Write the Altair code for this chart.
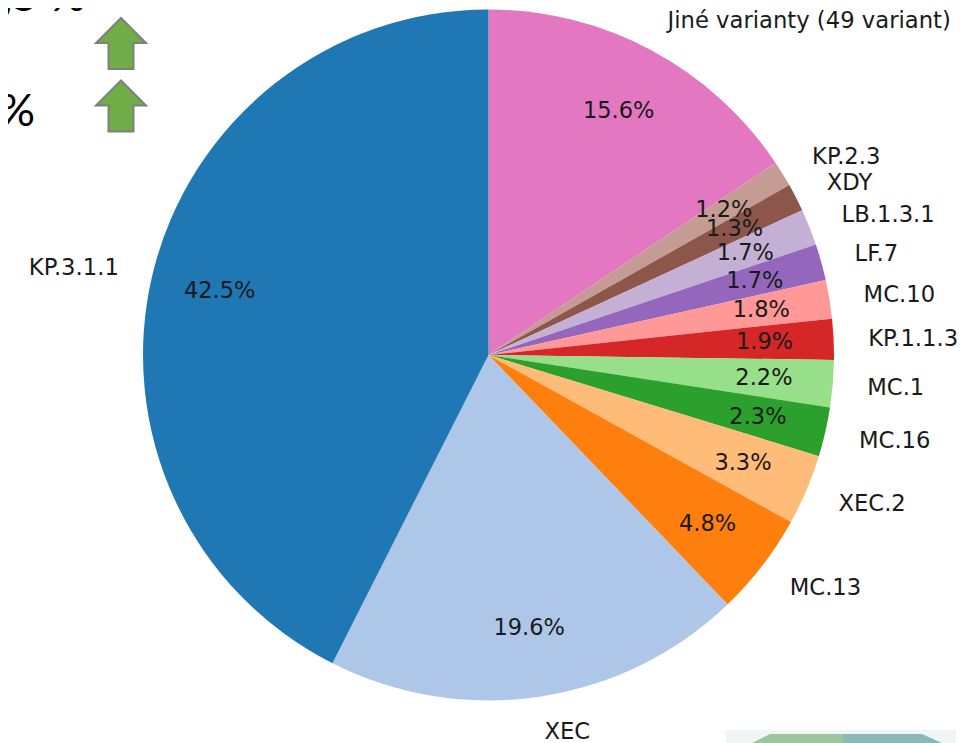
import altair as alt
import pandas as pd

# clockwise from the top
names = ["Jiné varianty (49 variant)", "KP.2.3", "XDY", "LB.1.3.1", "LF.7", "MC.10", "KP.1.1.3",
         "MC.1", "MC.16", "XEC.2", "MC.13", "XEC", "KP.3.1.1"]
shares = [15.6, 1.2, 1.3, 1.7, 1.7, 1.8, 1.9, 2.2, 2.3, 3.3, 4.8, 19.6, 42.5]
colors = ["#e377c2", "#c49c94", "#8c564b", "#c5b0d5", "#9467bd", "#ff9896", "#d62728",
          "#98df8a", "#2ca02c", "#ffbb78", "#ff7f0e", "#aec7e8", "#1f77b4"]
clipped_texts = [",5 %", "6", "%"]

OX, OY = 8, 8
CX, CY = 488.5 - OX, 355 - OY
R = 345.5

df = pd.DataFrame({"name": names, "share": shares})
df["start"] = df["share"].cumsum() - df["share"]
df["end"] = df["share"].cumsum()
df["mid"] = (df["start"] + df["end"]) / 2
df["pct"] = df["share"].map(lambda v: f"{v:.1f}%")
df["side"] = ["right" if m < sum(shares) / 2 else "left" for m in df["mid"]]

theta_scale = alt.Scale(domain=[0, sum(shares)], range=[0, 6.283185307])
cx, cy = alt.value(CX), alt.value(CY)

arcs = alt.Chart(df).mark_arc(outerRadius=R, innerRadius=0).encode(
    theta=alt.Theta("start:Q", scale=theta_scale, stack=False),
    theta2=alt.Theta2("end:Q"),
    color=alt.Color("name:N", scale=alt.Scale(domain=names, range=colors), legend=None),
    x=cx, y=cy,
)


def ring_text(data, field, radius, align, size, dy=0):
    return alt.Chart(data).mark_text(radius=radius, align=align, baseline="middle", font="DejaVu Sans",
                                     fontSize=size, dy=dy, color="#1a1a1a").encode(
        theta=alt.Theta("mid:Q", scale=theta_scale, stack=False),
        text=alt.Text(field + ":N"),
        x=cx, y=cy,
    )


pct = ring_text(df, "pct", 0.8 * R, "center", 22.5)
lab_r = ring_text(df[df["side"] == "right"], "name", 1.1 * R, "left", 22.7, 1)
lab_l = ring_text(df[df["side"] == "left"], "name", 1.1 * R, "right", 22.7, 1)

# Fragments of the overlaid slide at the edges of the screenshot
arrow = "M0,-1L0.98,-0.02L0.49,-0.02L0.49,1L-0.49,1L-0.49,-0.02L-0.98,-0.02Z"
dummy = pd.DataFrame({"k": [0]})


def arrow_mark(px, py):
    return alt.Chart(dummy).mark_point(shape=arrow, size=51 ** 2, filled=True, fill="#70ad47",
                                       stroke="#7f7f7f", strokeWidth=2, opacity=1).encode(
        x=alt.value(px - OX), y=alt.value(py - OY))


def big_text(t, px, py):
    return alt.Chart(pd.DataFrame({"t": [t]})).mark_text(font="Lato", fontSize=45, align="left",
                                                         baseline="alphabetic", color="#000000").encode(
        x=alt.value(px - OX), y=alt.value(py - OY), text="t:N")


def box(x1, x2, y1, y2, color):
    return alt.Chart(dummy).mark_rect(color=color).encode(
        x=alt.value(x1 - OX), x2=alt.value(x2 - OX), y=alt.value(y1 - OY), y2=alt.value(y2 - OY))


top_line = box(98, 145, -2, 1, "#bfbfbf")
corner_bg = box(726, 956, 730, 751, "#f1f5f4")


def cap(path, color):
    return alt.Chart(dummy).mark_point(shape=path, size=200 ** 2, filled=True, fill=color, opacity=1,
                                       strokeWidth=0).encode(x=alt.value(847 - OX), y=alt.value(834 - OY))


cap_left = cap("M-0.95,-0.91L-0.77,-1L-0.04,-1L-0.04,-0.5L-0.95,-0.5Z", "#9fc5a0")
cap_right = cap("M-0.04,-1L0.75,-1L0.95,-0.91L0.95,-0.5L-0.04,-0.5Z", "#8bb9ba")

chart = alt.layer(
    arcs, pct, lab_r, lab_l,
    big_text(clipped_texts[0], 2, 11), big_text(clipped_texts[1], -20, 68), big_text(clipped_texts[2], -1, 126),
    top_line, arrow_mark(121, 43.5), arrow_mark(121, 106),
    corner_bg, cap_left, cap_right,
).resolve_scale(color="independent").properties(
    width=957, height=735, padding=0, autosize=alt.AutoSizeParams(type="none"),
    background="white",
).configure_view(stroke=None)

chart.save("out.html", embed_options={"renderer": "svg", "actions": False})
